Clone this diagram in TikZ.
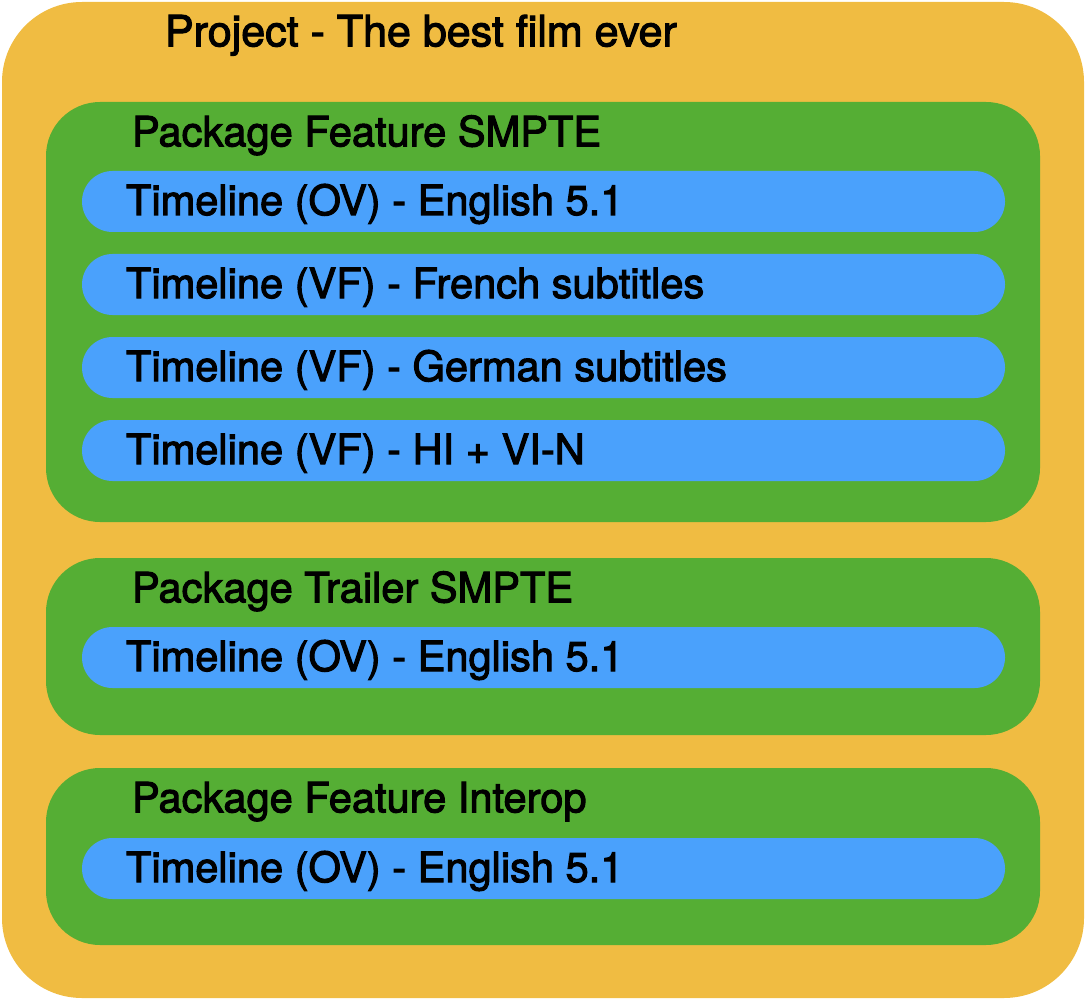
\documentclass[tikz,border=0pt]{standalone}
\usepackage{fontspec}
\setmainfont{TeX Gyre Heros}
\newfontfamily\boxfont{TeX Gyre Heros}[FakeBold=2.5]
\usetikzlibrary{positioning}
\usetikzlibrary{calc}
\definecolor{projectyellow}{HTML}{F0BC42}
\definecolor{packagegreen}{HTML}{55AE34}
\definecolor{timelineblue}{HTML}{4AA1FC}
\tikzstyle{projectbox} = [rectangle, fill=projectyellow, rounded corners=40pt, minimum width=541pt, minimum height=498pt, inner sep=0pt]
\tikzstyle{packagebox} = [rectangle, fill=packagegreen, rounded corners=27pt, minimum width=497pt, inner sep=0pt]
\tikzstyle{timelinebox} = [rectangle, fill=timelineblue, rounded corners=15.25pt, minimum width=461.5pt, minimum height=30.5pt, inner sep=0pt]
\tikzstyle{boxtext} = [anchor=base west, inner sep=0pt, font=\boxfont\fontsize{20.8}{25}\selectfont]

\begin{document}
\begin{tikzpicture}[x=0.5pt, y=-0.5pt]
    \useasboundingbox (0, 0) rectangle (1086, 1000);

    % --- Project ---
    \node[projectbox] at (543, 500) (project) {};
    \node[boxtext, font=\boxfont\fontsize{21.5}{26}\selectfont] at ($(project.north west) + (163, 44.7)$) (project_text) {Project - The best film ever};

    % --- Package Feature SMPTE ---
    \node[packagebox, minimum height=210pt] at (543, 312) (feature_smpte) {};
    \node[boxtext] at ($(feature_smpte.north west) + (86, 44.7)$) (feature_smpte_text) {Package Feature SMPTE};

    % timelines inside the feature package
    \node[timelinebox] at (543.5, 201.5) (feature_ov) {};
    \node[boxtext] at ($(feature_ov.west) + (44, 13.5)$) (feature_ov_text) {Timeline (OV) - English 5.1};

    \node[timelinebox] at (543.5, 284.5) (feature_vf_fr) {};
    \node[boxtext] at ($(feature_vf_fr.west) + (44, 13.5)$) (feature_vf_fr_text) {Timeline (VF) - French subtitles};

    \node[timelinebox] at (543.5, 367.5) (feature_vf_de) {};
    \node[boxtext] at ($(feature_vf_de.west) + (44, 13.5)$) (feature_vf_de_text) {Timeline (VF) - German subtitles};

    \node[timelinebox] at (543.5, 450.5) (feature_vf_hi) {};
    \node[boxtext] at ($(feature_vf_hi.west) + (44, 13.5)$) (feature_vf_hi_text) {Timeline (VF) - HI + VI-N};

    % --- Package Trailer SMPTE ---
    \node[packagebox, minimum height=88.5pt] at (543, 646.5) (trailer_smpte) {};
    \node[boxtext] at ($(trailer_smpte.north west) + (86, 44.7)$) (trailer_smpte_text) {Package Trailer SMPTE};

    \node[timelinebox] at (543.5, 657.5) (trailer_ov) {};
    \node[boxtext] at ($(trailer_ov.west) + (44, 13.5)$) (trailer_ov_text) {Timeline (OV) - English 5.1};

    % --- Package Feature Interop ---
    \node[packagebox, minimum height=88.5pt] at (543, 856.5) (feature_interop) {};
    \node[boxtext] at ($(feature_interop.north west) + (86, 44.7)$) (feature_interop_text) {Package Feature Interop};

    \node[timelinebox] at (543.5, 868.5) (interop_ov) {};
    \node[boxtext] at ($(interop_ov.west) + (44, 13.5)$) (interop_ov_text) {Timeline (OV) - English 5.1};

\end{tikzpicture}
\end{document}
